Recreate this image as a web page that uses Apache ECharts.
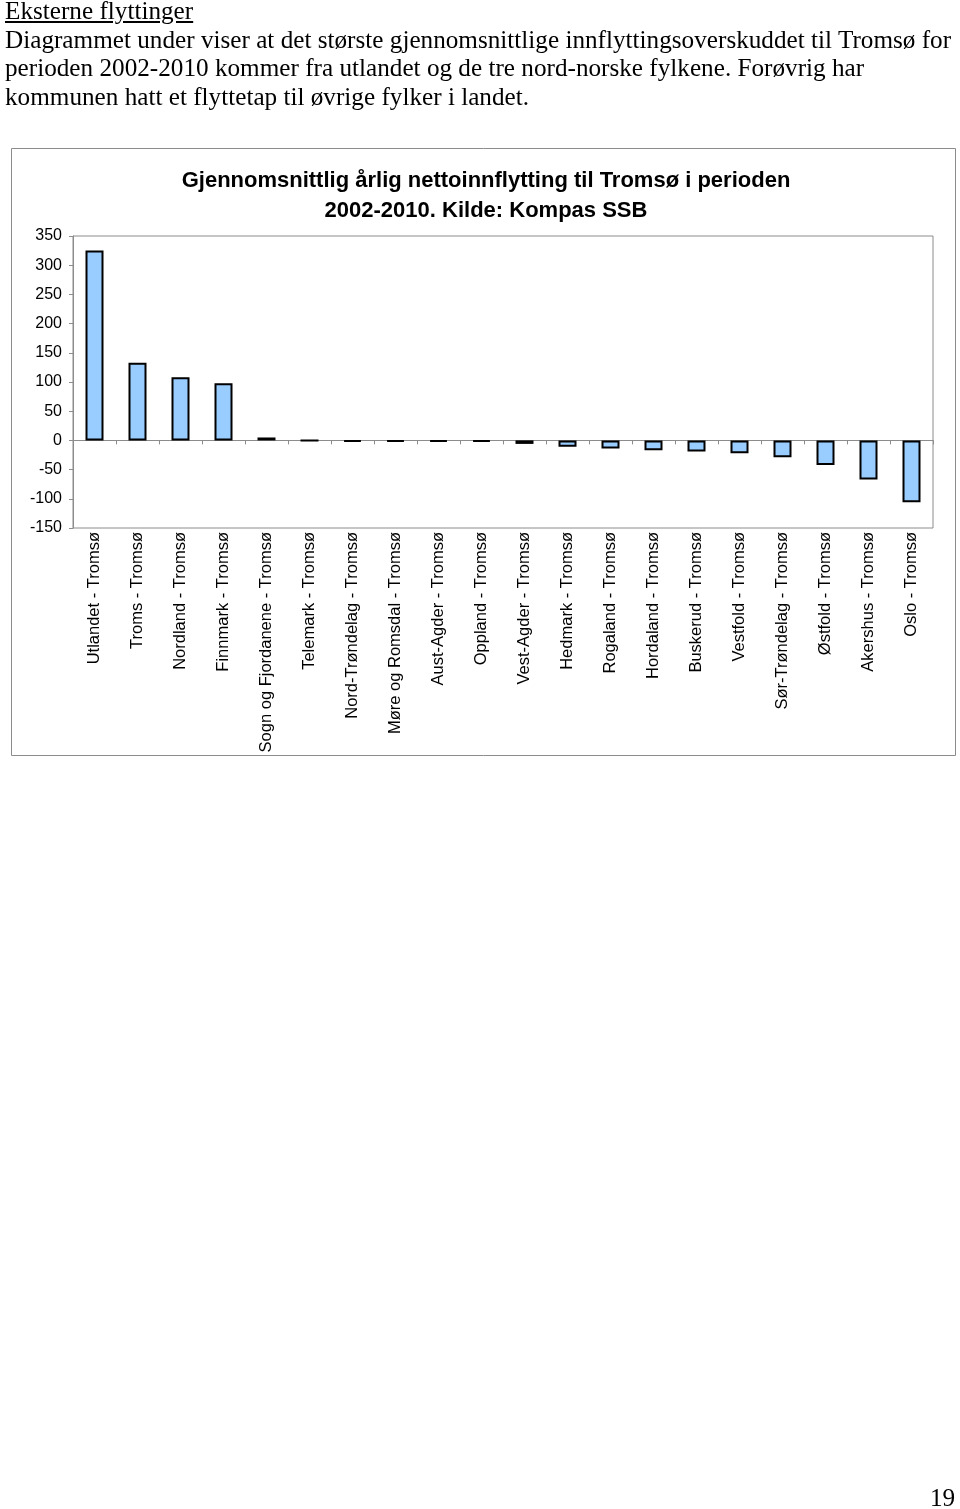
<!DOCTYPE html>
<html>
<head>
<meta charset="utf-8">
<script src="https://cdn.jsdelivr.net/npm/echarts@6/dist/echarts.min.js"></script>
<style>
  html, body { margin: 0; padding: 0; background: #fff; }
  #page { position: relative; width: 960px; height: 1509px; overflow: hidden; }
  .txt { position: absolute; left: 5px; font-family: "Liberation Serif", "Times New Roman", serif; font-size: 26px; color: #000; white-space: nowrap; line-height: 1; transform: scaleX(0.969); transform-origin: 0 0; }
  #chart { position: absolute; left: 0; top: 0; width: 960px; height: 1509px; }
</style>
</head>
<body>
<div id="page">
  <div id="chart"></div>
  <div class="txt" style="top:-2px;text-decoration:underline;">Eksterne flyttinger</div>
  <div class="txt" style="top:27px;">Diagrammet under viser at det største gjennomsnittlige innflyttingsoverskuddet til Tromsø for</div>
  <div class="txt" style="top:55px;">perioden 2002-2010 kommer fra utlandet og de tre nord-norske fylkene. Forøvrig har</div>
  <div class="txt" style="top:84px;">kommunen hatt et flyttetap til øvrige fylker i landet.</div>
  <div class="txt" style="top:1485px;left:930px;">19</div>
</div>
<script>
const categories = [
  "Utlandet - Tromsø", "Troms - Tromsø", "Nordland - Tromsø", "Finnmark - Tromsø",
  "Sogn og Fjordanene - Tromsø", "Telemark - Tromsø", "Nord-Trøndelag - Tromsø",
  "Møre og Romsdal - Tromsø", "Aust-Agder - Tromsø", "Oppland - Tromsø",
  "Vest-Agder - Tromsø", "Hedmark - Tromsø", "Rogaland - Tromsø", "Hordaland - Tromsø",
  "Buskerud - Tromsø", "Vestfold - Tromsø", "Sør-Trøndelag - Tromsø", "Østfold - Tromsø",
  "Akershus - Tromsø", "Oslo - Tromsø"
];
const values = [325, 133, 108, 98, 5, 0, -2, -2, -2, -2, -6, -11, -14, -17, -19, -22, -29, -42, -67, -106];
const titleText = "Gjennomsnittlig årlig nettoinnflytting til Tromsø i perioden\n2002-2010. Kilde: Kompas SSB";
const yMin = -150, yMax = 350, yStep = 50;

const chart = echarts.init(document.getElementById('chart'), null, { renderer: 'canvas' });
const sans = '"Liberation Sans", Arial, sans-serif';
chart.setOption({
  animation: false,
  backgroundColor: '#fff',
  title: {
    text: titleText,
    left: 481, top: 161, textAlign: 'center',
    textStyle: { fontFamily: sans, fontWeight: 'bold', fontSize: 22, color: '#000', lineHeight: 30 }
  },
  graphic: [{
    type: 'rect', shape: { x: 11.5, y: 148.5, width: 944, height: 607 },
    style: { fill: null, stroke: '#8c8c8c', lineWidth: 1 }, z: 0
  }],
  grid: {
    left: 73, top: 236, right: 27, bottom: 981,
    show: true, borderColor: '#8c8c8c', borderWidth: 1, backgroundColor: 'transparent'
  },
  xAxis: [{
    type: 'category', data: categories, position: 'bottom',
    axisLine: { show: false, onZero: false }, axisTick: { show: false },
    axisLabel: { rotate: 90, margin: 4, fontFamily: sans, fontSize: 16.5, color: '#000', interval: 0 }
  }, {
    type: 'category', data: categories, position: 'bottom',
    axisLine: { show: true, onZero: true, lineStyle: { color: '#8c8c8c', width: 1 } },
    axisTick: { show: true, inside: false, length: 4, interval: 0, lineStyle: { color: '#8c8c8c' } },
    axisLabel: { show: false, interval: 0 }
  }],
  yAxis: {
    type: 'value', min: yMin, max: yMax, interval: yStep,
    axisLine: { show: true, lineStyle: { color: '#8c8c8c' } },
    axisTick: { show: true, inside: false, length: 4, lineStyle: { color: '#8c8c8c' } },
    splitLine: { show: false },
    axisLabel: { margin: 11, fontFamily: sans, fontSize: 16, color: '#000' }
  },
  series: [{
    type: 'bar', data: values, xAxisIndex: 0, barWidth: 18,
    itemStyle: { color: '#99ccff', borderColor: '#000', borderWidth: 2 }
  }]
});
</script>
</body>
</html>
